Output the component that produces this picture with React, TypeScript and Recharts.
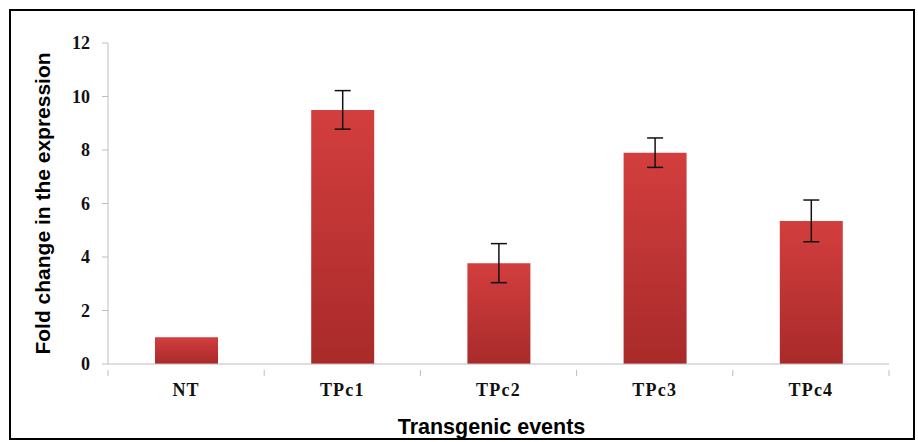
import { BarChart, Bar, XAxis, YAxis, ErrorBar } from 'recharts'

const categories = ['NT', 'TPc1', 'TPc2', 'TPc3', 'TPc4']
const foldChange = [1.0, 9.5, 3.77, 7.9, 5.35]
const errors = [0, 0.72, 0.73, 0.55, 0.78]
const yTicks = [0, 2, 4, 6, 8, 10, 12]

const data = categories.map((name, i) => ({ name, value: foldChange[i], err: errors[i] }))

const serif = '"Liberation Serif", "Times New Roman", serif'
const sans = '"Liberation Sans", Arial, sans-serif'

// category label plus small tick marks on the band edges, like Excel
function CategoryTick(props: any) {
  const { x, y, payload, index, visibleTicksCount } = props
  const half = payload.offset ?? 0
  const last = index === visibleTicksCount - 1
  return (
    <g>
      <line x1={x - half} y1={y - 12} x2={x - half} y2={y - 6} stroke="#bdbdbd" />
      {last && <line x1={x + half} y1={y - 12} x2={x + half} y2={y - 6} stroke="#bdbdbd" />}
      <text
        x={x}
        y={y + 14}
        textAnchor="middle"
        fill="#111"
        fontFamily={serif}
        fontWeight={700}
        fontSize={18}
        letterSpacing={1.2}
      >
        {payload.value}
      </text>
    </g>
  )
}

export default function App() {
  return (
    <div style={{ position: 'absolute', left: 0, top: 0, width: 918, height: 442, background: '#fff' }}>
      <div
        style={{
          position: 'absolute',
          left: 9,
          top: 9,
          width: 906,
          height: 431,
          border: '2px solid #000',
          boxSizing: 'border-box',
        }}
      />
      <BarChart
        width={918}
        height={442}
        data={data}
        margin={{ top: 43, right: 29, left: 0, bottom: 0 }}
      >
        <defs>
          <linearGradient id="barFill" x1="0" y1="0" x2="0" y2="1">
            <stop offset="0%" stopColor="#d33e3e" />
            <stop offset="100%" stopColor="#a92a2a" />
          </linearGradient>
        </defs>
        <XAxis
          dataKey="name"
          height={78}
          axisLine={{ stroke: '#bdbdbd' }}
          tickLine={false}
          tick={<CategoryTick />}
          tickMargin={12}
          label={{
            value: 'Transgenic events',
            position: 'insideBottom',
            offset: 8,
            dx: -7,
            style: {
              fill: '#000',
              fontFamily: sans,
              fontWeight: 700,
              fontSize: 21.5,
            },
          }}
        />
        <YAxis
          width={108}
          domain={[0, 12]}
          ticks={yTicks}
          axisLine={{ stroke: '#bdbdbd' }}
          tickLine={{ stroke: '#bdbdbd' }}
          tickSize={6}
          tickMargin={12}
          tick={{ fill: '#111', fontFamily: serif, fontWeight: 700, fontSize: 18 }}
          label={{
            value: 'Fold change in the expression',
            angle: -90,
            position: 'insideLeft',
            offset: 43,
            dy: 0,
            style: {
              textAnchor: 'middle',
              fill: '#000',
              fontFamily: sans,
              fontWeight: 700,
              fontSize: 21,
            },
          }}
        />
        <Bar dataKey="value" fill="url(#barFill)" barSize={63} isAnimationActive={false}>
          <ErrorBar dataKey="err" width={8} stroke="#111" strokeWidth={1.5} />
        </Bar>
      </BarChart>
    </div>
  )
}
